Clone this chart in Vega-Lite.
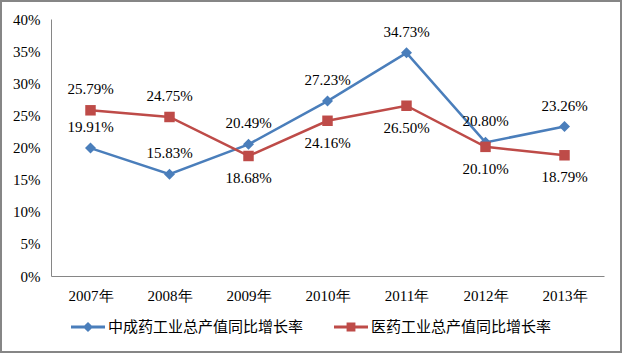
{
  "$schema": "https://vega.github.io/schema/vega-lite/v6.json",
  "autosize": {"type": "none"},
  "padding": {"left": 1, "top": 1, "right": 1, "bottom": 1},
  "width": 620,
  "height": 351,
  "background": "white",
  "config": {
    "view": {"stroke": "#868686", "strokeWidth": 2, "fill": "white"},
    "axis": {"labelFont": "Liberation Serif, Times New Roman, serif", "labelFontSize": 15, "labelColor": "#000000", "domainColor": "#868686", "domainWidth": 1, "ticks": false, "grid": false, "title": null}
  },
  "data": {"values": [
    {"year": "2007年", "series": "中成药工业总产值同比增长率", "value": 0.1991},
    {"year": "2008年", "series": "中成药工业总产值同比增长率", "value": 0.1583},
    {"year": "2009年", "series": "中成药工业总产值同比增长率", "value": 0.2049},
    {"year": "2010年", "series": "中成药工业总产值同比增长率", "value": 0.2723},
    {"year": "2011年", "series": "中成药工业总产值同比增长率", "value": 0.3473},
    {"year": "2012年", "series": "中成药工业总产值同比增长率", "value": 0.2080},
    {"year": "2013年", "series": "中成药工业总产值同比增长率", "value": 0.2326},
    {"year": "2007年", "series": "医药工业总产值同比增长率", "value": 0.2579},
    {"year": "2008年", "series": "医药工业总产值同比增长率", "value": 0.2475},
    {"year": "2009年", "series": "医药工业总产值同比增长率", "value": 0.1868},
    {"year": "2010年", "series": "医药工业总产值同比增长率", "value": 0.2416},
    {"year": "2011年", "series": "医药工业总产值同比增长率", "value": 0.2650},
    {"year": "2012年", "series": "医药工业总产值同比增长率", "value": 0.2010},
    {"year": "2013年", "series": "医药工业总产值同比增长率", "value": 0.1879}
  ]},
  "encoding": {
    "x": {"field": "year", "type": "ordinal", "sort": null,
      "scale": {"type": "point", "range": [50, 603], "padding": 0.5},
      "axis": {"orient": "bottom", "offset": -76, "labelAngle": 0, "labelPadding": 12}},
    "y": {"field": "value", "type": "quantitative",
      "scale": {"domain": [0, 0.4], "range": [275, 18], "nice": false, "zero": true},
      "axis": {"orient": "left", "offset": -50, "values": [0, 0.05, 0.1, 0.15, 0.2, 0.25, 0.3, 0.35, 0.4], "format": ".0%", "labelPadding": 11}}
  },
  "layer": [
    {
      "mark": {"type": "line", "strokeWidth": 2.5},
      "encoding": {
        "color": {"field": "series", "type": "nominal",
          "scale": {"domain": ["中成药工业总产值同比增长率", "医药工业总产值同比增长率"], "range": ["#4A7EBB", "#BE4B48"]},
          "legend": {"orient": "none", "legendX": 70, "legendY": 309, "direction": "horizontal", "title": null,
            "symbolSize": 1156, "symbolStrokeWidth": 0, "labelFont": "Noto Sans CJK SC", "labelFontSize": 15, "labelColor": "#000000",
            "labelOffset": 3, "labelLimit": 400, "columnPadding": 30, "padding": 0}}
      }
    },
    {
      "transform": [{"filter": "false"}],
      "mark": {"type": "point", "filled": true, "opacity": 1},
      "encoding": {
        "color": {"field": "series", "type": "nominal"},
        "shape": {"field": "series", "type": "nominal",
          "scale": {"domain": ["中成药工业总产值同比增长率", "医药工业总产值同比增长率"],
            "range": ["M-1,-0.09L1,-0.09L1,0.09L-1,0.09Z M0,-0.3L0.3,0L0,0.3L-0.3,0Z", "M-1,-0.09L1,-0.09L1,0.09L-1,0.09Z M-0.26,-0.26L0.26,-0.26L0.26,0.26L-0.26,0.26Z"]}}
      }
    },
    {
      "transform": [{"filter": "datum.series == '中成药工业总产值同比增长率'"}],
      "mark": {"type": "point", "shape": "diamond", "filled": true, "size": 121, "color": "#4A7EBB", "opacity": 1}
    },
    {
      "transform": [{"filter": "datum.series == '医药工业总产值同比增长率'"}],
      "mark": {"type": "point", "shape": "square", "filled": true, "size": 110, "color": "#BE4B48", "opacity": 1}
    },
    {
      "transform": [{"filter": "datum.series == '中成药工业总产值同比增长率'"}],
      "mark": {"type": "text", "font": "Liberation Serif, Times New Roman, serif", "fontSize": 15, "color": "#000000", "dy": -21, "baseline": "middle"},
      "encoding": {"text": {"field": "value", "type": "quantitative", "format": ".2%"}}
    },
    {
      "transform": [{"filter": "datum.series == '医药工业总产值同比增长率' && (datum.year == '2007年' || datum.year == '2008年')"}],
      "mark": {"type": "text", "font": "Liberation Serif, Times New Roman, serif", "fontSize": 15, "color": "#000000", "dy": -21, "baseline": "middle"},
      "encoding": {"text": {"field": "value", "type": "quantitative", "format": ".2%"}}
    },
    {
      "transform": [{"filter": "datum.series == '医药工业总产值同比增长率' && datum.year != '2007年' && datum.year != '2008年'"}],
      "mark": {"type": "text", "font": "Liberation Serif, Times New Roman, serif", "fontSize": 15, "color": "#000000", "dy": 22, "baseline": "middle"},
      "encoding": {"text": {"field": "value", "type": "quantitative", "format": ".2%"}}
    }
  ]
}
